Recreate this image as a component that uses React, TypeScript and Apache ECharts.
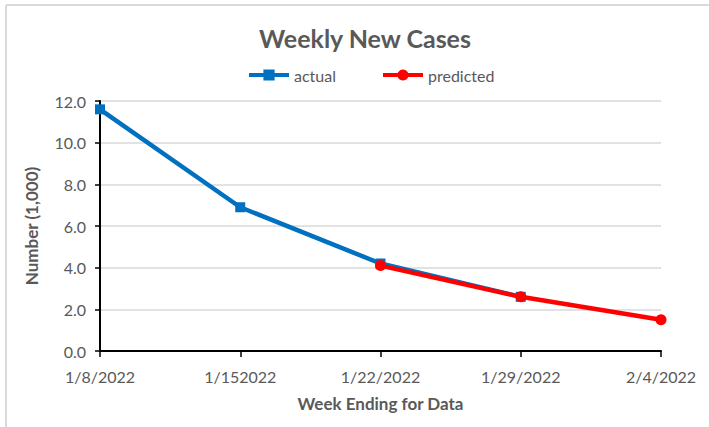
import React, { useEffect, useRef } from "react";
import * as echarts from "echarts";

const categories = ["1/8/2022", "1/152022", "1/22/2022", "1/29/2022", "2/4/2022"];
const actualValues: (number | null)[] = [11.6, 6.9, 4.2, 2.6, null];
const predictedValues: (number | null)[] = [null, null, 4.1, 2.6, 1.5];

const FONT = "Lato, 'Open Sans', sans-serif";
const TEXT = "#595959";

export default function App() {
  const ref = useRef<HTMLDivElement>(null);
  useEffect(() => {
    if (!ref.current) return;
    const chart = echarts.init(ref.current, undefined, { renderer: "svg" });
    chart.setOption({
      animation: false,
      backgroundColor: "#ffffff",
      textStyle: { fontFamily: FONT },
      title: {
        text: "Weekly New Cases",
        left: 360,
        textAlign: "center",
        top: 20,
        textStyle: { fontFamily: FONT, fontSize: 25, fontWeight: "bold", color: TEXT },
      },
      legend: {
        left: 242,
        top: 62,
        itemGap: 45,
        itemWidth: 40,
        itemHeight: 14,
        lineStyle: { width: 4 },
        textStyle: { fontFamily: FONT, fontSize: 16, color: TEXT },
        data: ["actual", "predicted"],
      },
      graphic: [
        { type: "line", shape: { x1: 6, y1: 5, x2: 709, y2: 5 }, style: { stroke: "#d9d9d9", lineWidth: 2 } },
        { type: "line", shape: { x1: 6, y1: 5, x2: 6, y2: 427 }, style: { stroke: "#d9d9d9", lineWidth: 2 } },
      ],
      grid: { left: 100, right: 48, top: 101, bottom: 76, containLabel: false },
      xAxis: {
        type: "category",
        data: categories,
        boundaryGap: false,
        name: "Week Ending for Data",
        nameLocation: "middle",
        nameGap: 44,
        nameTextStyle: { fontFamily: FONT, fontSize: 17, fontWeight: "bold", color: TEXT },
        axisLine: { lineStyle: { color: "#000000", width: 2 } },
        axisTick: { show: true, alignWithLabel: true, length: 6, lineStyle: { color: "#000000", width: 1.5 } },
        axisLabel: { fontFamily: FONT, fontSize: 16, color: TEXT, margin: 17 },
        splitLine: { show: false },
      },
      yAxis: {
        type: "value",
        min: 0,
        max: 12,
        interval: 2,
        name: "Number (1,000)",
        nameLocation: "middle",
        nameGap: 60,
        nameRotate: 90,
        nameTextStyle: { fontFamily: FONT, fontSize: 17, fontWeight: "bold", color: TEXT },
        axisLine: { show: true, lineStyle: { color: "#000000", width: 2 } },
        axisTick: { show: true, length: 5, lineStyle: { color: "#000000", width: 1.5 } },
        axisLabel: {
          fontFamily: FONT,
          fontSize: 16,
          color: TEXT,
          margin: 14,
          formatter: (v: number) => v.toFixed(1),
        },
        splitLine: { show: true, lineStyle: { color: "#d9d9d9", width: 1.5 } },
      },
      series: [
        {
          name: "actual",
          type: "line",
          data: actualValues,
          symbol: "rect",
          symbolSize: 10,
          lineStyle: { color: "#0070C0", width: 4.5 },
          itemStyle: { color: "#0070C0" },
          connectNulls: false,
        },
        {
          name: "predicted",
          type: "line",
          data: predictedValues,
          symbol: "circle",
          symbolSize: 11,
          lineStyle: { color: "#FF0000", width: 4.5 },
          itemStyle: { color: "#FF0000" },
          connectNulls: false,
        },
      ],
    });
    return () => chart.dispose();
  }, []);
  return (
    <div
      ref={ref}
      style={{ position: "fixed", left: 0, top: 0, width: 709, height: 427 }}
    />
  );
}
